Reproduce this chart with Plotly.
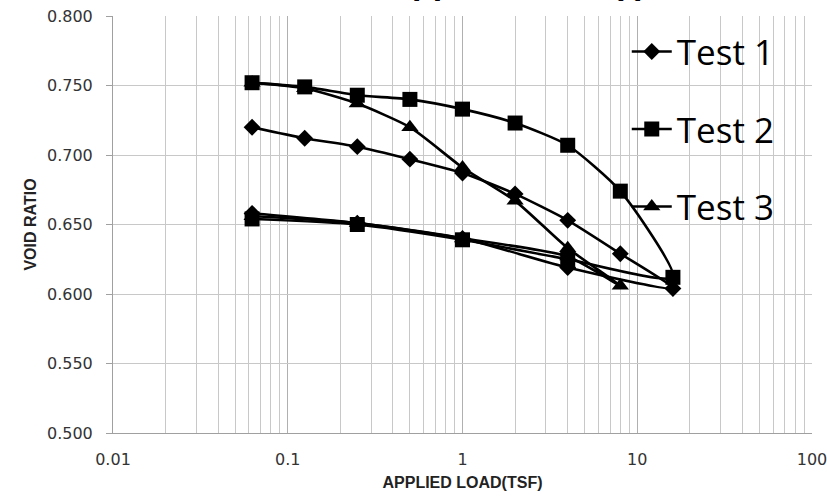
import plotly.graph_objects as go

# Data
load_t1 = [0.0625, 0.125, 0.25, 0.5, 1, 2, 4, 8, 16, 4, 1, 0.25, 0.0625]
void_t1 = [0.720, 0.712, 0.706, 0.697, 0.687, 0.672, 0.653, 0.629, 0.604, 0.619, 0.640, 0.651, 0.658]

load_t2 = [0.0625, 0.125, 0.25, 0.5, 1, 2, 4, 8, 16, 4, 1, 0.25, 0.0625]
void_t2 = [0.752, 0.749, 0.743, 0.740, 0.733, 0.723, 0.707, 0.674, 0.612, 0.625, 0.639, 0.650, 0.654]

load_t3 = [0.0625, 0.125, 0.25, 0.5, 1, 2, 4, 8, 4, 1, 0.25, 0.0625]
void_t3 = [0.752, 0.748, 0.737, 0.720, 0.691, 0.667, 0.633, 0.606, 0.627, 0.640, 0.651, 0.656]

series = [
    ("Test 1", load_t1, void_t1, "diamond", 13),
    ("Test 2", load_t2, void_t2, "square", 15),
    ("Test 3", load_t3, void_t3, "triangle-up", 15),
]

x_ticks = [0.01, 0.1, 1, 10, 100]
x_tick_text = ["0.01", "0.1", "1", "10", "100"]
y_ticks = [0.500, 0.550, 0.600, 0.650, 0.700, 0.750, 0.800]

fig = go.Figure()
for i, (name, x, y, sym, sz) in enumerate(series):
    fig.add_trace(go.Scatter(
        x=x, y=y, name=name, mode="lines+markers",
        line=dict(color="black", width=2.6, shape="spline", smoothing=0.6),
        marker=dict(symbol=sym, size=sz, color="black"),
        legendgroup=f"g{i}",
    ))

grid = "#c8c8c8"
fig.update_layout(
    width=827, height=500,
    margin=dict(l=113, r=15, t=16, b=67, autoexpand=False),
    plot_bgcolor="white", paper_bgcolor="white",
    showlegend=True,
    legend=dict(
        x=0.735, y=0.985, xanchor="left", yanchor="top",
        bgcolor="rgba(0,0,0,0)",
        font=dict(family="Open Sans, sans-serif", size=35, color="black"),
        tracegroupgap=29, itemwidth=40,
    ),
    xaxis=dict(
        type="log", range=[-2, 2],
        tickvals=x_ticks, ticktext=x_tick_text,
        showgrid=True, gridcolor="#b0b0b0", gridwidth=1,
        minor=dict(dtick="D1", showgrid=True, gridcolor=grid, gridwidth=1, ticks=""),
        showline=True, linecolor="#a0a0a0", linewidth=1,
        ticks="", zeroline=False, ticklabelstandoff=12,
        ticklabeloverflow="allow",
        tickfont=dict(family="DejaVu Sans, sans-serif", size=16, color="#333"),
        title=dict(text="<b>APPLIED LOAD(TSF)</b>", standoff=8,
                   font=dict(family="Liberation Sans, sans-serif", size=16, color="#222")),
    ),
    yaxis=dict(
        range=[0.5, 0.8], tickvals=y_ticks, tickformat=".3f",
        showgrid=True, gridcolor=grid, gridwidth=1,
        showline=True, linecolor="#a0a0a0", linewidth=1,
        ticks="outside", ticklen=6, tickcolor="#a0a0a0",
        zeroline=False, ticklabelstandoff=10,
        ticklabeloverflow="allow",
        tickfont=dict(family="DejaVu Sans, sans-serif", size=16, color="#333"),
        title=dict(text="<b>VOID RATIO</b>", standoff=6,
                   font=dict(family="Liberation Sans, sans-serif", size=16, color="#222")),
    ),
)

# Title, mostly cut off at the top of the image
fig.add_annotation(
    text="<b>Void Ratio vs. Applied Load (t)</b>",
    xref="paper", yref="paper", x=0.765, y=1.03,
    xanchor="right", yanchor="bottom", showarrow=False,
    font=dict(family="Liberation Sans, sans-serif", size=34, color="black"),
)

fig.write_html("out.html")
